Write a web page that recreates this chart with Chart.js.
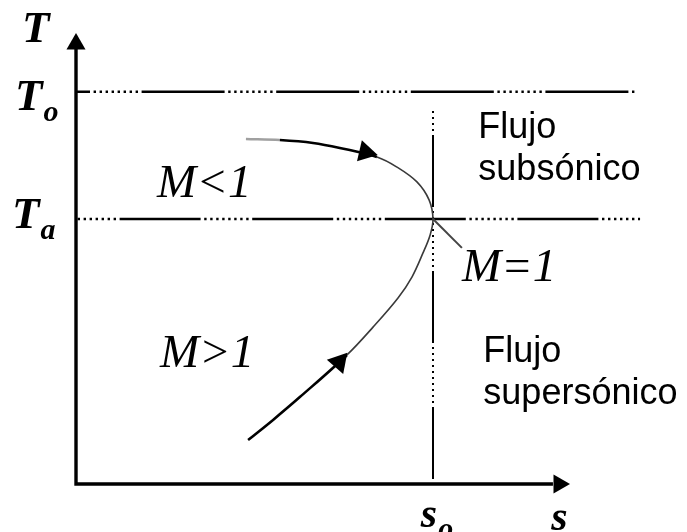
<!DOCTYPE html>
<html>
<head>
<meta charset="utf-8">
<script src="https://cdn.jsdelivr.net/npm/chart.js@4.4.1/dist/chart.umd.min.js"></script>
<style>
  html, body { margin: 0; padding: 0; background: #fff; }
  #wrap { width: 687px; height: 532px; position: relative; }
</style>
</head>
<body>
<div id="wrap"><canvas id="ts"></canvas></div>
<script>
// T-s diagram of a nozzle flow: entropy s across, temperature T up

// axis extents (the arrowheads sit just past them)
const sAxisEnd = 13.36;
const tAxisEnd = 16.45;
const sArrow = 13.53;
const tArrow = 16.6;

// stagnation and critical temperature levels
const levelT = [14.8, 10];      // T0, Ta
const levelEnd = [15.69, 15.8];

// critical entropy s0 and the top of its marker line
const s0 = 10;
const s0Top = 14.19;

// the flow curve, from the subsonic branch through M=1 down the supersonic branch
const curveS = [4.76, 5.71, 6.64, 7.39, 8.43, 8.99, 9.55, 9.89, 10.0, 9.92, 9.72, 9.41, 9.02, 8.32, 7.59, 6.27, 5.52, 4.82];
const curveT = [13.02, 12.98, 12.87, 12.68, 12.34, 11.96, 11.40, 10.72, 10.0, 9.40, 8.72, 7.81, 7.02, 5.92, 4.87, 3.28, 2.42, 1.66];

// arrowheads on the curve and their heading (degrees clockwise from up)
const flowArrowS = [8.11, 7.37];
const flowArrowT = [12.52, 4.60];
const flowArrowDir = [103, 41];

// leader from the sonic point to the M=1 label
const leaderS = [10.0, 10.81];
const leaderT = [10.0, 8.91];

const pts = (xs, ys) => xs.map((v, i) => ({ x: v, y: ys[i] }));

// dash, then a run of dots
const dashDot = (dash, dots, dot = 2.4, gap = 3.6) => {
  const p = [dash, gap];
  for (let i = 0; i < dots; i++) p.push(dot, gap);
  return p;
};

const thickSeg = i => i <= 3 || i >= 14;

const datasets = [
  {
    data: pts(flowArrowS, flowArrowT),
    showLine: false,
    pointStyle: 'triangle',
    pointRadius: 12.5,
    pointRotation: flowArrowDir,
    pointBackgroundColor: '#000',
    pointBorderWidth: 0
  },
  {
    data: pts(curveS, curveT),
    showLine: true,
    tension: 0.35,
    pointRadius: 0,
    borderColor: '#333',
    borderWidth: 1.5,
    segment: {
      borderWidth: ctx => thickSeg(ctx.p0DataIndex) ? 2.6 : 1.6,
      borderColor: ctx => ctx.p0DataIndex === 0 ? '#a0a0a0' : (thickSeg(ctx.p0DataIndex) ? '#000' : '#3a3a3a')
    }
  },
  {
    data: pts(leaderS, leaderT),
    showLine: true,
    pointRadius: 0,
    borderColor: '#444',
    borderWidth: 2
  },
  {
    data: [{ x: sArrow, y: 0 }, { x: 0, y: tArrow }],
    showLine: false,
    pointStyle: 'triangle',
    pointRadius: 11,
    pointRotation: [90, 0],
    pointBackgroundColor: '#000',
    pointBorderWidth: 0
  },
  {
    data: [{ x: 0, y: tAxisEnd }, { x: 0, y: 0 }, { x: sAxisEnd, y: 0 }],
    showLine: true,
    pointRadius: 0,
    borderColor: '#000',
    borderWidth: 3.4,
    borderJoinStyle: 'miter'
  },
  {
    data: [{ x: 0, y: levelT[0] }, { x: levelEnd[0], y: levelT[0] }],
    showLine: true,
    pointRadius: 0,
    borderColor: '#000',
    borderWidth: 2.5,
    borderDash: dashDot(83, 8),
    borderDashOffset: 69
  },
  {
    data: [{ x: 0, y: levelT[1] }, { x: levelEnd[1], y: levelT[1] }],
    showLine: true,
    pointRadius: 0,
    borderColor: '#000',
    borderWidth: 2.5,
    borderDash: dashDot(81, 8),
    borderDashOffset: 89
  },
  {
    data: [{ x: s0, y: s0Top }, { x: s0, y: 0 }],
    showLine: true,
    pointRadius: 0,
    borderColor: '#000',
    borderWidth: 2,
    borderDash: dashDot(72, 10, 2, 4),
    borderDashOffset: 109
  }
];

const mathLabels = [
  { text: 'T', s: -1.51, t: 16.68, weight: 'bold' },
  { text: 'T', sub: 'o', s: -1.71, t: 14.11, weight: 'bold' },
  { text: 'T', sub: 'a', s: -1.79, t: 9.66, weight: 'bold' },
  { text: 'M<1', s: 2.27, t: 10.83, size: 47 },
  { text: 'M>1', s: 2.35, t: 4.42, size: 47 },
  { text: 'M=1', s: 10.81, t: 7.66, size: 47 },
  { text: 's', sub: 'o', s: 9.66, t: -1.62, size: 42, weight: 'bold' },
  { text: 's', s: 13.31, t: -1.74, size: 42, weight: 'bold' }
];

const flowLabels = [
  { lines: ['Flujo', 'subsónico'], s: 11.27, t: 13.06 },
  { lines: ['Flujo', 'supersónico'], s: 11.41, t: 4.60 }
];

const labelPlugin = {
  id: 'tsLabels',
  afterDraw(chart) {
    const { ctx, scales: { x, y } } = chart;
    ctx.save();
    ctx.fillStyle = '#000';
    ctx.textBaseline = 'alphabetic';
    ctx.textAlign = 'left';
    mathLabels.forEach(l => {
      const px = x.getPixelForValue(l.s);
      const py = y.getPixelForValue(l.t);
      const weight = l.weight || 'normal';
      ctx.font = `italic ${weight} ${l.size || 45}px "Liberation Serif"`;
      ctx.fillText(l.text, px, py);
      if (l.sub) {
        const w = ctx.measureText(l.text).width;
        ctx.font = `italic ${weight} 30px "Liberation Serif"`;
        ctx.fillText(l.sub, px + w + 1, py + 11);
      }
    });
    ctx.font = '36px "Liberation Sans"';
    flowLabels.forEach(l => {
      const px = x.getPixelForValue(l.s);
      const py = y.getPixelForValue(l.t);
      l.lines.forEach((line, i) => ctx.fillText(line, px, py + i * 42));
    });
    ctx.restore();
  }
};

new Chart(document.getElementById('ts'), {
  type: 'scatter',
  data: { datasets },
  options: {
    responsive: true,
    maintainAspectRatio: false,
    animation: false,
    layout: { padding: 0, autoPadding: false },
    plugins: {
      legend: { display: false },
      tooltip: { enabled: false }
    },
    scales: {
      x: { type: 'linear', min: -2.129, max: 17.115, display: false },
      y: { type: 'linear', min: -1.811, max: 18.264, display: false }
    }
  },
  plugins: [labelPlugin]
});
</script>
</body>
</html>
